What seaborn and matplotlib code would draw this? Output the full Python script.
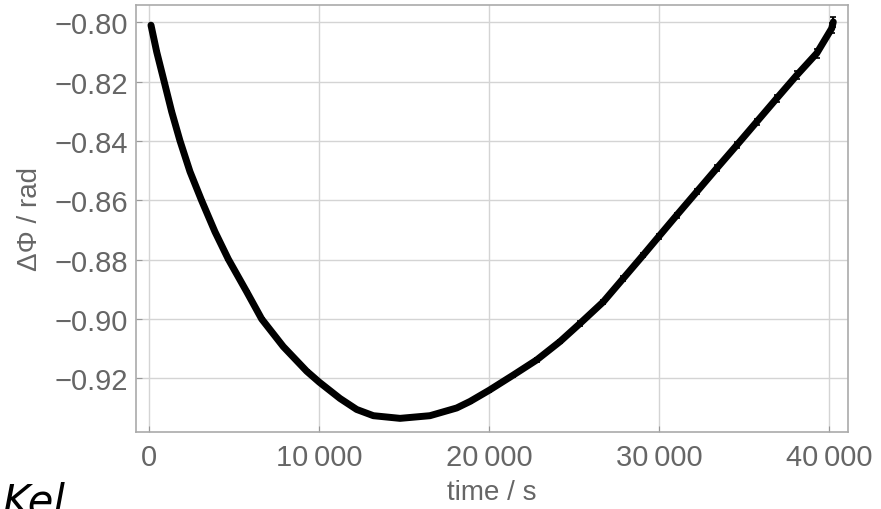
import numpy as np
import pandas as pd
import matplotlib
matplotlib.use("Agg")
import matplotlib.pyplot as plt
import seaborn as sns

# data
time_s = [100, 435, 865, 1318, 1806, 2394, 3082, 3865, 4647, 5729, 6612, 7882, 9259,
          10000, 11220, 12200, 13180, 14750, 16510, 18080, 18865, 20000, 21412, 22788,
          24159, 25335, 26706, 27882, 29059, 29965, 31024, 32200, 33376, 34553, 35729,
          36906, 38082, 39259, 40141, 40235]
dphi = [-0.8009, -0.8099, -0.8197, -0.8301, -0.8399, -0.8503, -0.8601, -0.8706, -0.8798,
        -0.8908, -0.9000, -0.9093, -0.9176, -0.9213, -0.9268, -0.9305, -0.9326, -0.9335,
        -0.9326, -0.9300, -0.9278, -0.9240, -0.9189, -0.9138, -0.9076, -0.9015, -0.8942,
        -0.8863, -0.8784, -0.8722, -0.8650, -0.8571, -0.8492, -0.8414, -0.8335, -0.8256,
        -0.8178, -0.8104, -0.8020, -0.7998]
dphi_err = [0.0002, 0.0002, 0.0002, 0.0002, 0.0002, 0.0002, 0.0002, 0.0002, 0.0002,
            0.0002, 0.0002, 0.0003, 0.0003, 0.0003, 0.0003, 0.0003, 0.0003, 0.0003,
            0.0004, 0.0004, 0.0004, 0.0005, 0.0005, 0.0006, 0.0006, 0.0007, 0.0007,
            0.0008, 0.0008, 0.0008, 0.0009, 0.0009, 0.0010, 0.0010, 0.0011, 0.0012,
            0.0013, 0.0015, 0.0017, 0.0018]

x_ticks = [0, 10000, 20000, 30000, 40000]
x_tick_labels = ["0", "10\u2009000", "20\u2009000", "30\u2009000", "40\u2009000"]
y_ticks = [-0.80, -0.82, -0.84, -0.86, -0.88, -0.90, -0.92]
y_tick_labels = ["\u22120.80", "\u22120.82", "\u22120.84", "\u22120.86", "\u22120.88",
                 "\u22120.90", "\u22120.92"]

sns.set_theme(style="white")
plt.rcParams["font.family"] = ["Liberation Sans", "DejaVu Sans"]

fig = plt.figure(figsize=(8.81, 5.10), dpi=100)
ax = fig.add_axes([136 / 881, 1 - 433 / 510, (848 - 136) / 881, (433 - 6) / 510])

df = pd.DataFrame({"t": time_s, "phi": dphi})
ax.errorbar(time_s, dphi, yerr=dphi_err, fmt="none", ecolor="black",
            elinewidth=1.5, capsize=2.5, capthick=1.2, zorder=3)
sns.lineplot(data=df, x="t", y="phi", sort=False, color="black", lw=5,
             solid_capstyle="round", solid_joinstyle="round", ax=ax, zorder=4)

ax.set_xlim(-782, 41100)
ax.set_ylim(-0.9381, -0.7941)

ax.set_xticks(x_ticks)
ax.set_xticklabels(x_tick_labels)
ax.set_yticks(y_ticks)
ax.set_yticklabels(y_tick_labels)

gray_text = "#666666"
ax.tick_params(axis="both", direction="in", length=4, width=0.8, color="#999999",
               labelsize=21, labelcolor=gray_text, pad=6)
ax.tick_params(axis="x", pad=8)
ax.tick_params(axis="both", which="both", bottom=True, left=True, top=False, right=False)

ax.grid(True, color="#d4d4d4", lw=1.0)
ax.set_axisbelow(True)
for s in ax.spines.values():
    s.set_color("#aaaaaa")
    s.set_linewidth(1.2)

ax.set_xlabel("time / s", fontsize=20, color=gray_text, labelpad=6)
ax.set_ylabel("\u0394\u03a6 / rad", fontsize=20, color=gray_text, labelpad=8)

fig.text(0.003, 0.055, "Kel", fontsize=30, style="italic", va="top", ha="left",
         color="black", family=["DejaVu Sans"])

fig.savefig("out.png", dpi=100)
